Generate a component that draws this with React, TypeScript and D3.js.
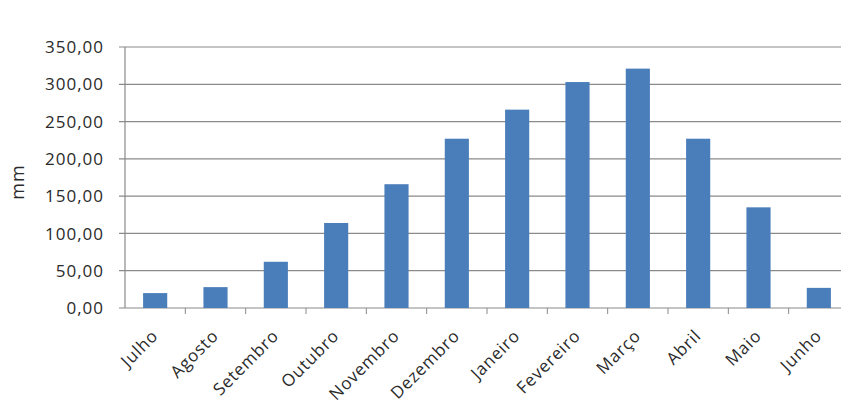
import React from "react";
import * as d3 from "d3";

const months = ["Julho", "Agosto", "Setembro", "Outubro", "Novembro", "Dezembro", "Janeiro", "Fevereiro", "Março", "Abril", "Maio", "Junho"];
const rainfall = [20, 28, 62, 114, 166, 227, 266, 303, 321, 227, 135, 27];
const yTicks = [0, 50, 100, 150, 200, 250, 300, 350];

const W = 841;
const H = 413;
const left = 125;
const right = 849;
const top = 47;
const bottom = 308;

export default function App() {
  const x = d3.scaleBand<string>().domain(months).range([left, right]).paddingInner(0.6).paddingOuter(0.3);
  const xb = d3.scaleBand<string>().domain(months).range([left, right]);
  const y = d3.scaleLinear().domain([0, 350]).range([bottom, top]);
  const fmt = (v: number) => v.toFixed(2).replace(".", ",");
  const font = "'Open Sans', Lato, sans-serif";
  return (
    <svg width={W} height={H} style={{ position: "absolute", left: 0, top: 0, background: "#fff" }}>
      {yTicks.map((t) => (
        <g key={t}>
          <line x1={left - 6} x2={W} y1={y(t)} y2={y(t)} stroke="#8a8a8a" strokeWidth={1.2} />
          <text x={104} y={y(t)} dy="0.36em" textAnchor="end" fontFamily={font} fontSize={17} letterSpacing={1} fill="#2a2a2a">
            {fmt(t)}
          </text>
        </g>
      ))}
      <line x1={left} x2={left} y1={top} y2={bottom} stroke="#8a8a8a" strokeWidth={1.2} />
      {months.map((m) => (
        <line key={"t" + m} x1={(xb(m) as number) + xb.bandwidth()} x2={(xb(m) as number) + xb.bandwidth()} y1={bottom} y2={bottom + 6} stroke="#8a8a8a" strokeWidth={1} />
      ))}
      {months.map((m, i) => (
        <rect key={m} x={x(m)} y={y(rainfall[i])} width={x.bandwidth()} height={bottom - y(rainfall[i])} fill="#4a7ebb" />
      ))}
      {months.map((m) => {
        const cx = (xb(m) as number) + xb.bandwidth() / 2 + 4;
        const cy = bottom + 29;
        return (
          <text key={"l" + m} x={cx} y={cy} transform={`rotate(-45 ${cx} ${cy})`} textAnchor="end" fontFamily={font} fontSize={17} letterSpacing={0.8} fill="#2a2a2a">
            {m}
          </text>
        );
      })}
      <text x={24} y={182} transform="rotate(-90 24 182)" textAnchor="middle" fontFamily={font} fontSize={18} letterSpacing={1} fill="#2a2a2a">
        mm
      </text>
    </svg>
  );
}
